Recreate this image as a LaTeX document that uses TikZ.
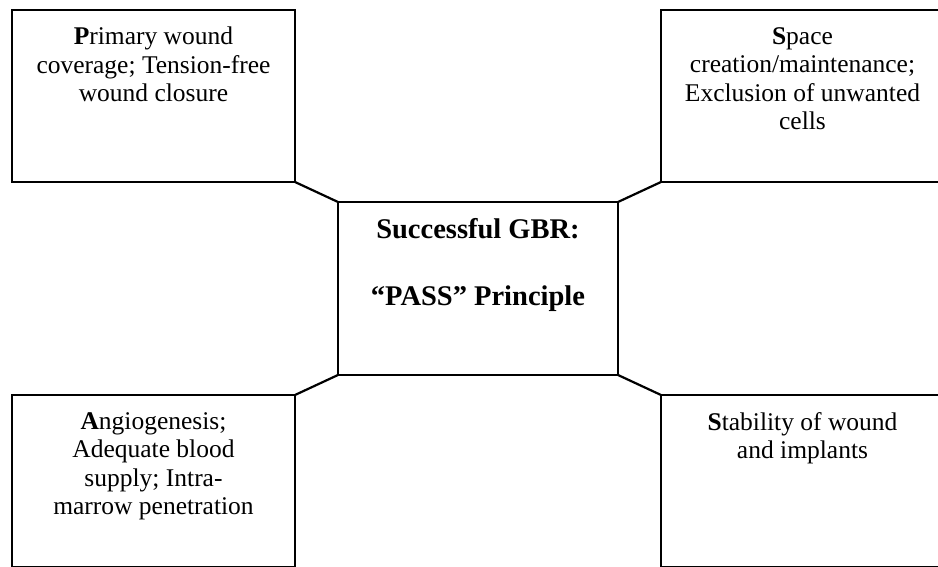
\documentclass[tikz,border=0pt]{standalone}
\usepackage{fontspec}
\setmainfont{Liberation Serif}
\usetikzlibrary{positioning}

\begin{document}
\begin{tikzpicture}[x=1pt,y=1pt,node distance=20pt and 43pt,
  box/.style={draw=black,line width=2.2pt,outer sep=0pt,minimum width=283pt,minimum height=172pt},
  mid/.style={box,minimum width=280pt,minimum height=173pt},
  txt/.style={inner sep=0pt,align=center,font=\fontsize{25.5}{28.5}\selectfont},
  link/.style={draw=black,line width=2.2pt,line cap=round}]
  \useasboundingbox (0,0) rectangle (938,567);
  \fill[white] (0,0) rectangle (938,567);
  \node[mid] (gbr) at (478,278.5) {};
  \node[box,above left=of gbr.north west] (primary) {};
  \node[box,above right=of gbr.north east] (space) {};
  \node[box,below left=of gbr.south west] (angio) {};
  \node[box,below right=of gbr.south east] (stable) {};
  \draw[link] (primary.south east)--(gbr.north west); \draw[link] (space.south west)--(gbr.north east);
  \draw[link] (angio.north east)--(gbr.south west); \draw[link] (stable.north west)--(gbr.south east);
  \node[txt,below=17pt of primary.north] (primarytxt) {\textbf{P}rimary wound\\coverage; Tension-free\\wound closure};
  \node[txt,below=17pt of space.north] (spacetxt) {\textbf{S}pace\\creation/maintenance;\\Exclusion of unwanted\\cells};
  \node[txt,below=17pt of angio.north] (angiotxt) {\textbf{A}ngiogenesis;\\Adequate blood\\supply; Intra-\\marrow penetration};
  \node[txt,below=17pt of stable.north] (stabletxt) {\textbf{S}tability of wound\\and implants};
  \node[txt,font=\fontsize{28.5}{33}\selectfont\bfseries,below=16pt of gbr.north] (gbrtxt) {Successful GBR:\\[34pt]“PASS” Principle};
\end{tikzpicture}
\end{document}
